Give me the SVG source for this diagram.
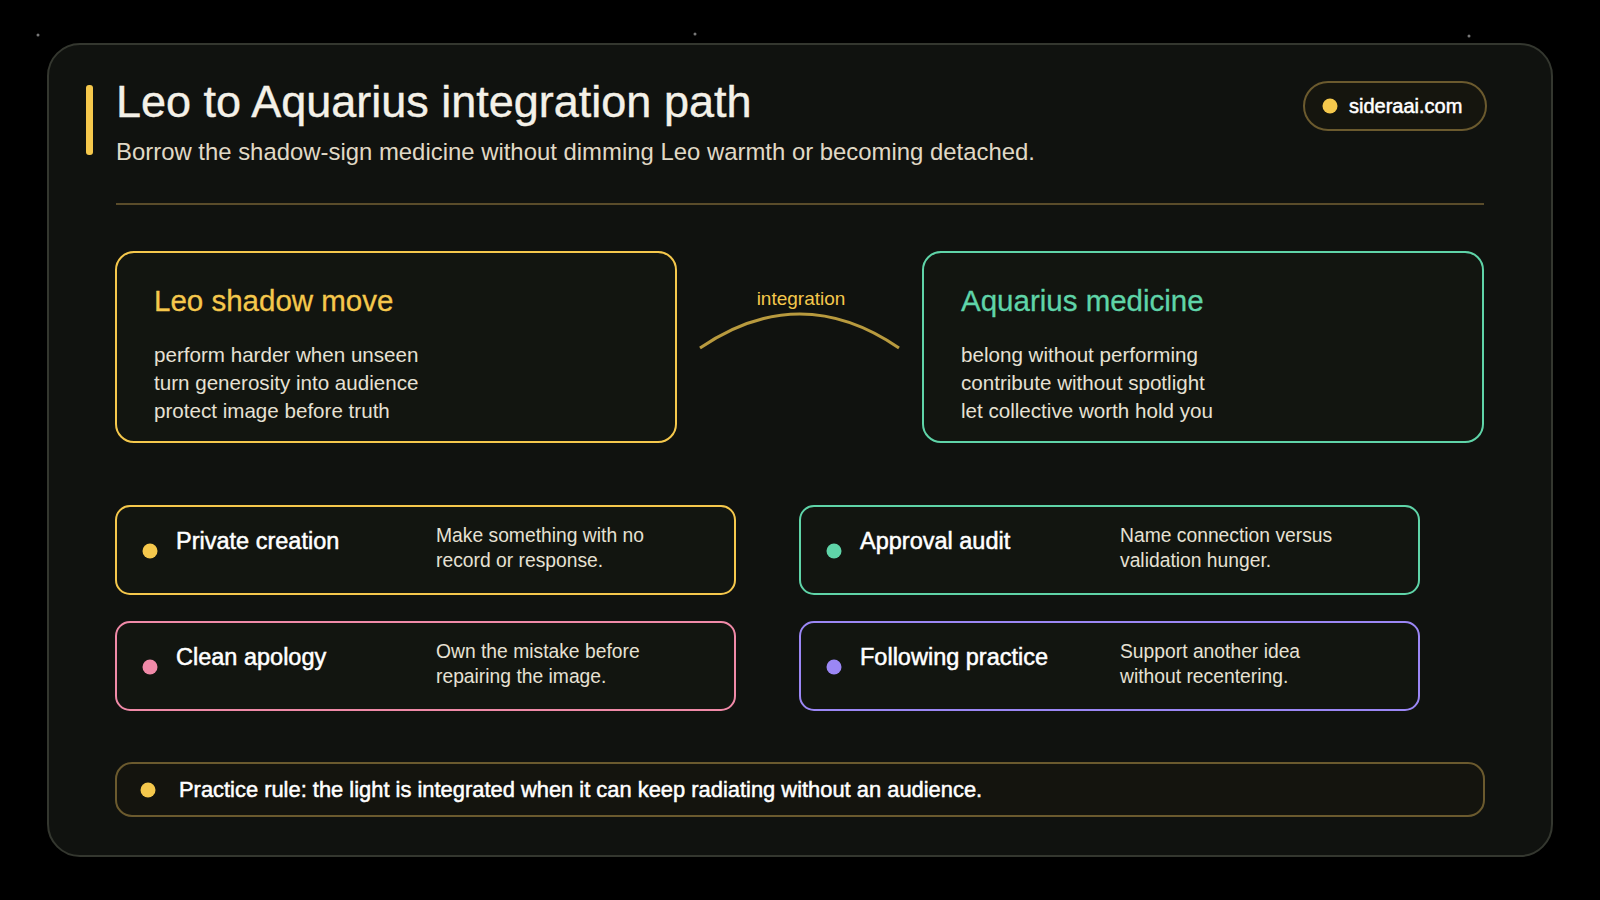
<svg xmlns="http://www.w3.org/2000/svg" width="1600" height="900" viewBox="0 0 1600 900">
<style>
text{font-family:"Liberation Sans",Arial,sans-serif}
.t{fill:#f4f1e8}
.d{fill:#e6e1d4;font-size:20.6px}
.it{fill:#ffffff;font-size:23.5px;font-weight:normal;stroke:#fff;stroke-width:0.5px}
.ds{fill:#e6e1d4;font-size:19.3px}
.box{fill:#121510;stroke-width:2}
</style>
<rect width="1600" height="900" fill="#000"/>
<circle cx="38" cy="35" r="1.5" fill="#777"/><circle cx="695" cy="34" r="1.5" fill="#777"/><circle cx="1469" cy="36" r="1.5" fill="#777"/>
<rect x="48" y="44" width="1504" height="812" rx="32" fill="#10120f" stroke="#34372f" stroke-width="2"/>
<g id="header">
<rect x="86" y="85" width="7" height="70" rx="3" fill="#f5c84c"/>
<text x="116" y="117" class="t" font-size="45" stroke="#f4f1e8" stroke-width="0.4">Leo to Aquarius integration path</text>
<text x="116" y="160" fill="#e0d9c6" font-size="23.9">Borrow the shadow-sign medicine without dimming Leo warmth or becoming detached.</text>
<rect x="1304" y="82" width="182" height="48" rx="24" fill="#15150e" stroke="#6b5a2e" stroke-width="2"/>
<circle cx="1330" cy="106" r="7.5" fill="#f5c84c"/>
<text x="1349" y="113" fill="#fff" font-size="20" stroke="#fff" stroke-width="0.5">sideraai.com</text>
<line x1="116" y1="204" x2="1484" y2="204" stroke="#5a4c2a" stroke-width="2"/>
</g>
<g id="connectors">
<path d="M700 348 Q800 280 899 348" fill="none" stroke="#b89a3e" stroke-width="3"/>
<text x="801" y="305" text-anchor="middle" fill="#f5c84c" font-size="19">integration</text>
</g>
<g id="leo">
<rect x="116" y="252" width="560" height="190" rx="18" class="box" stroke="#f5c84c"/>
<text x="154" y="311" fill="#f5c84c" font-size="29.5" stroke="#f5c84c" stroke-width="0.3">Leo shadow move</text>
<text x="154" y="362" class="d">perform harder when unseen</text>
<text x="154" y="390" class="d">turn generosity into audience</text>
<text x="154" y="418" class="d">protect image before truth</text>
</g>
<g id="aquarius">
<rect x="923" y="252" width="560" height="190" rx="18" class="box" stroke="#5fd4a8"/>
<text x="961" y="311" fill="#5fd4a8" font-size="29.5" stroke="#5fd4a8" stroke-width="0.3">Aquarius medicine</text>
<text x="961" y="362" class="d">belong without performing</text>
<text x="961" y="390" class="d">contribute without spotlight</text>
<text x="961" y="418" class="d">let collective worth hold you</text>
</g>
<g id="private">
<rect x="116" y="506" width="619" height="88" rx="14" class="box" stroke="#f5c84c"/>
<circle cx="150" cy="551" r="7.5" fill="#f5c84c"/>
<text x="176" y="549" class="it">Private creation</text>
<text x="436" y="542" class="ds">Make something with no</text>
<text x="436" y="567" class="ds">record or response.</text>
</g>
<g id="approval">
<rect x="800" y="506" width="619" height="88" rx="14" class="box" stroke="#5fd4a8"/>
<circle cx="834" cy="551" r="7.5" fill="#5fd4a8"/>
<text x="860" y="549" class="it">Approval audit</text>
<text x="1120" y="542" class="ds">Name connection versus</text>
<text x="1120" y="567" class="ds">validation hunger.</text>
</g>
<g id="apology">
<rect x="116" y="622" width="619" height="88" rx="14" class="box" stroke="#f08aa8"/>
<circle cx="150" cy="667" r="7.5" fill="#f08aa8"/>
<text x="176" y="665" class="it">Clean apology</text>
<text x="436" y="658" class="ds">Own the mistake before</text>
<text x="436" y="683" class="ds">repairing the image.</text>
</g>
<g id="following">
<rect x="800" y="622" width="619" height="88" rx="14" class="box" stroke="#9b87f5"/>
<circle cx="834" cy="667" r="7.5" fill="#9b87f5"/>
<text x="860" y="665" class="it">Following practice</text>
<text x="1120" y="658" class="ds">Support another idea</text>
<text x="1120" y="683" class="ds">without recentering.</text>
</g>
<g id="rule">
<rect x="116" y="763" width="1368" height="53" rx="16" fill="#14140e" stroke="#6b5a2e" stroke-width="2"/>
<circle cx="148" cy="790" r="7.5" fill="#f5c84c"/>
<text x="179" y="797" fill="#fff" font-size="21.9" stroke="#fff" stroke-width="0.5">Practice rule: the light is integrated when it can keep radiating without an audience.</text>
</g>
</svg>
